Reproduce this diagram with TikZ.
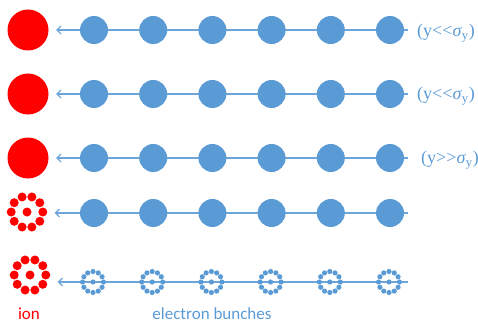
\documentclass[tikz,border=0pt]{standalone}
\usepackage{fontspec}
\setmainfont{Liberation Serif}
\newfontfamily\labelfont{Carlito}
\usetikzlibrary{arrows.meta,backgrounds}
\definecolor{ionred}{RGB}{255,0,0}
\definecolor{bunchblue}{RGB}{91,155,213}
\tikzset{
  ion/.style={circle, fill=ionred, minimum size=41pt, inner sep=0pt},
  ionspot/.style={circle, minimum size=40pt, inner sep=0pt},
  bunch/.style={circle, fill=bunchblue, minimum size=28pt, inner sep=0pt},
  bunchspot/.style={circle, minimum size=24pt, inner sep=0pt},
  beam/.style={draw=bunchblue!90!white, line width=1.3pt, shorten >=7.5pt,
    -{Straight Barb[length=4pt,width=8pt,line width=1.1pt]}},
  cond/.style={anchor=west, inner sep=0pt, text=bunchblue, font=\fontsize{18}{21}\selectfont},
  pics/ionring/.style={code={
    \foreach \a in {0,36,...,324} \fill[ionred] (\a:15.8pt) circle (4.5pt);
    \fill[ionred] (0,0) circle (4.5pt);
  }},
  pics/bunchring/.style={code={
    \foreach \a in {0,30,...,330} \fill[bunchblue] (\a:10.5pt) circle (2.6pt);
    \fill[bunchblue] (0,0) circle (2.6pt);
  }}
}

\begin{document}
\begin{tikzpicture}[x=1pt, y=-1pt]
  \useasboundingbox (0,0) rectangle (478,326);

  % full ions, round bunches
  \foreach \r/\y in {1/30, 2/94, 3/158} {
    \node[ion] (ion\r) at (28,\y) {};
    \foreach \k in {1,...,6}
      \node[bunch] (b\r\k) at ({94+59.2*(\k-1)},\y) {};
    \coordinate (end\r) at (408,\y);
  }

  % ring shaped ion
  \node[ionspot] (ion4) at (27,212) {};
  \pic at (ion4) {ionring};
  \foreach \k in {1,...,6}
    \node[bunch] (b4\k) at ({94+59.2*(\k-1)},213) {};
  \coordinate (end4) at (408,213);

  % ring shaped ion and ring shaped bunches
  \node[ionspot] (ion5) at (30,275) {};
  \pic at (ion5) {ionring};
  \foreach \k in {1,...,6} {
    \node[bunchspot] (b5\k) at ({93+59.2*(\k-1)},282) {};
    \pic at (b5\k) {bunchring};
  }
  \coordinate (end5) at (408,282);

  \begin{pgfonlayer}{background}
    \foreach \r in {1,...,5}
      \draw[beam] (end\r) -- (end\r -| ion\r.east);
  \end{pgfonlayer}

  \node[cond] (c1) at (417,33) {(y<{}<\textit{σ}\textsubscript{y})};
  \node[cond] (c2) at (417,96) {(y<{}<\textit{σ}\textsubscript{y})};
  \node[cond] (c3) at (421,160) {(y>{}>\textit{σ}\textsubscript{y})};

  \node[text=ionred, font=\labelfont\fontsize{17}{20}\selectfont] (ionlbl) at (29,314) {ion};
  \node[text=bunchblue, font=\labelfont\fontsize{17}{20}\selectfont] (bunchlbl) at (212,314) {electron bunches};
\end{tikzpicture}
\end{document}
